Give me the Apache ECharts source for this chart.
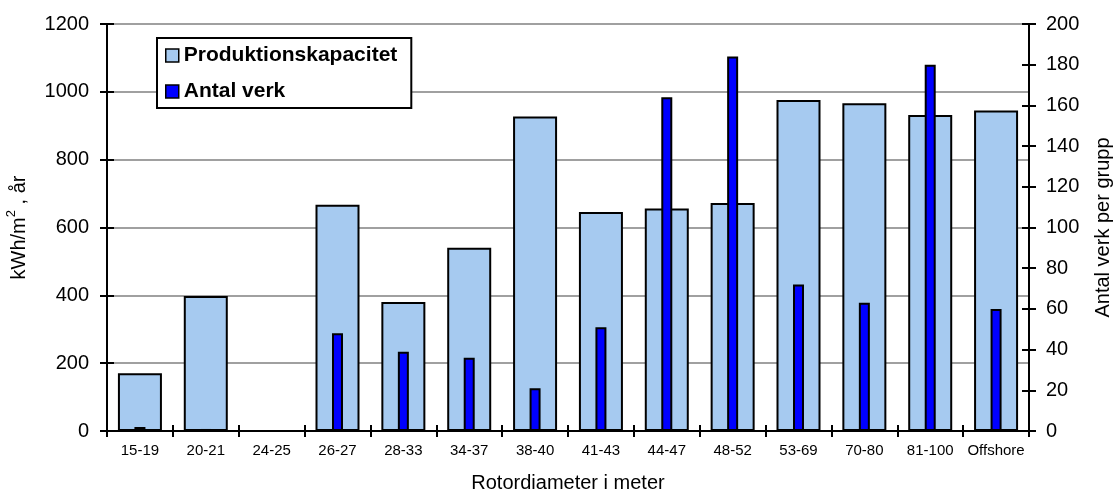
<!DOCTYPE html>
<html>
<head>
<meta charset="utf-8">
<script src="https://cdn.jsdelivr.net/npm/echarts@6/dist/echarts.min.js"></script>
<style>
html,body{margin:0;padding:0;background:#fff;}
#c{width:1117px;height:497px;}
</style>
</head>
<body>
<div id="c"></div>
<script>
var categories = ['15-19','20-21','24-25','26-27','28-33','34-37','38-40','41-43','44-47','48-52','53-69','70-80','81-100','Offshore'];
var capacity = [170, 398, null, 667, 380, 540, 927, 646, 656, 672, 976, 966, 932, 945];
var turbines = [2, 1, null, 48, 39, 36, 21, 51, 164, 184, 72, 63, 180, 60];
var leftTicks = {min: 0, max: 1200, interval: 200};
var rightTicks = {min: 0, max: 200, interval: 20};

var FONT = '"Liberation Sans", Arial, sans-serif';
var chart = echarts.init(document.getElementById('c'));
var black = '#000';
function plain(v) { return String(v); }
chart.setOption({
  animation: false,
  textStyle: {fontFamily: FONT, color: black},
  grid: {left: 107, right: 88, top: 24, bottom: 66, containLabel: false, outerBoundsMode: 'none'},
  legend: {
    orient: 'vertical',
    left: 157, top: 38,
    padding: [7, 14, 6, 8],
    itemGap: 15,
    itemWidth: 13, itemHeight: 13,
    borderColor: black, borderWidth: 2,
    backgroundColor: '#fff',
    textStyle: {fontFamily: FONT, fontSize: 21, fontWeight: 'bold', color: black},
    itemStyle: {borderColor: black, borderWidth: 1.5},
    data: [
      {name: 'Produktionskapacitet', icon: 'rect'},
      {name: 'Antal verk', icon: 'rect'}
    ]
  },
  xAxis: [
    {
      type: 'category', data: categories, position: 'bottom',
      axisLine: {lineStyle: {color: black, width: 2}},
      axisTick: {show: true, inside: false, length: 6, lineStyle: {color: black, width: 2}},
      axisLabel: {fontSize: 15, color: black, margin: 12, fontFamily: FONT, interval: 0},
      name: 'Rotordiameter i meter', nameLocation: 'middle', nameGap: 42,
      nameTextStyle: {fontSize: 20, color: black, fontFamily: FONT}
    },
    {
      type: 'category', data: categories, position: 'bottom',
      axisLine: {show: false},
      axisTick: {show: true, inside: true, length: 6, lineStyle: {color: black, width: 2}},
      axisLabel: {show: false}
    }
  ],
  yAxis: [
    {
      type: 'value', position: 'left', min: leftTicks.min, max: leftTicks.max, interval: leftTicks.interval,
      axisLine: {show: true, lineStyle: {color: black, width: 2}},
      axisTick: {show: true, inside: false, length: 7, lineStyle: {color: black, width: 2}},
      axisLabel: {fontSize: 20, color: black, margin: 18, fontFamily: FONT, formatter: plain},
      splitLine: {show: true, lineStyle: {color: '#808080', width: 1.5}},
      name: '{a|kWh/m}{s|2}{a| , år}', nameLocation: 'middle', nameGap: 78, nameRotate: 90,
      nameTextStyle: {
        fontSize: 20, color: black, fontFamily: FONT,
        rich: {
          a: {fontSize: 20, fontFamily: FONT, color: black, lineHeight: 24, verticalAlign: 'bottom'},
          s: {fontSize: 13, fontFamily: FONT, color: black, lineHeight: 24, verticalAlign: 'top', padding: [0, 0, 8, 0]}
        }
      }
    },
    {
      type: 'value', position: 'right', min: rightTicks.min, max: rightTicks.max, interval: rightTicks.interval,
      axisLine: {show: true, lineStyle: {color: black, width: 2}},
      axisTick: {show: true, inside: false, length: 7, lineStyle: {color: black, width: 2}},
      axisLabel: {fontSize: 20, color: black, margin: 17, fontFamily: FONT, formatter: plain},
      splitLine: {show: false},
      name: 'Antal verk per grupp', nameLocation: 'middle', nameGap: 64, nameRotate: 90,
      nameTextStyle: {fontSize: 20, color: black, fontFamily: FONT}
    },
    {
      type: 'value', position: 'left', min: leftTicks.min, max: leftTicks.max, interval: leftTicks.interval,
      axisLine: {show: false},
      axisTick: {show: true, inside: true, length: 7, lineStyle: {color: black, width: 2}},
      axisLabel: {show: false}, splitLine: {show: false}
    },
    {
      type: 'value', position: 'right', min: rightTicks.min, max: rightTicks.max, interval: rightTicks.interval,
      axisLine: {show: false},
      axisTick: {show: true, inside: true, length: 7, lineStyle: {color: black, width: 2}},
      axisLabel: {show: false}, splitLine: {show: false}
    }
  ],
  series: [
    {
      name: 'Produktionskapacitet', type: 'bar', xAxisIndex: 0, yAxisIndex: 0,
      data: capacity, barWidth: 44, z: 2,
      itemStyle: {color: '#A6CAF0', borderColor: black, borderWidth: 2}
    },
    {
      name: 'Antal verk', type: 'bar', xAxisIndex: 1, yAxisIndex: 1,
      data: turbines, barWidth: 11, z: 3,
      itemStyle: {color: '#0000FF', borderColor: black, borderWidth: 2}
    }
  ]
});
</script>
</body>
</html>
